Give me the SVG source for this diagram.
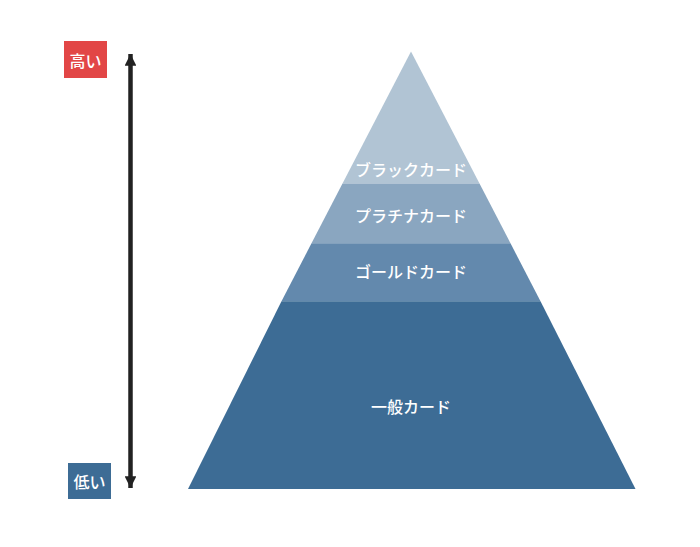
<svg xmlns="http://www.w3.org/2000/svg" width="700" height="547" viewBox="0 0 700 547">
<style>
.lbl{font-family:"Noto Sans CJK JP","Noto Sans",sans-serif;font-size:16px;font-weight:500;fill:#ffffff;text-anchor:middle;dominant-baseline:central}
</style>
<defs>
<marker id="ah" viewBox="0 0 10 10" refX="10" refY="5" markerWidth="2.6" markerHeight="2.6" orient="auto-start-reverse" markerUnits="strokeWidth">
<path d="M0,0 L10,5 L0,10 z" fill="#222222"/>
</marker>
</defs>
<rect width="700" height="547" fill="#ffffff"/>
<g id="connectors">
<line x1="130.5" y1="54" x2="130.5" y2="488" stroke="#222222" stroke-width="4.5" marker-start="url(#ah)" marker-end="url(#ah)"/>
</g>
<g id="high">
<rect x="64" y="41" width="43" height="37" fill="#e24646"/>
<text class="lbl" x="85.5" y="59.5">高い</text>
</g>
<g id="low">
<rect x="68" y="463" width="43" height="36" fill="#3d6c95"/>
<text class="lbl" x="89.5" y="481">低い</text>
</g>
<g id="black">
<polygon points="411,51.5 342.5,183.5 479.5,183.5" fill="#b1c4d4"/>
<text class="lbl" x="411" y="169">ブラックカード</text>
</g>
<g id="platinum">
<polygon points="342.5,183.5 479.5,183.5 510.5,243.3 311.5,243.3" fill="#8aa6c0"/>
<text class="lbl" x="411" y="215">プラチナカード</text>
</g>
<g id="gold">
<polygon points="311.5,243.3 510.5,243.3 540.5,301.3 281.5,301.3" fill="#6389ad"/>
<text class="lbl" x="411" y="271">ゴールドカード</text>
</g>
<g id="general">
<polygon points="281.5,301.3 540.5,301.3 635.5,489 188,489" fill="#3d6c95"/>
<text class="lbl" x="411" y="406">一般カード</text>
</g>
</svg>
